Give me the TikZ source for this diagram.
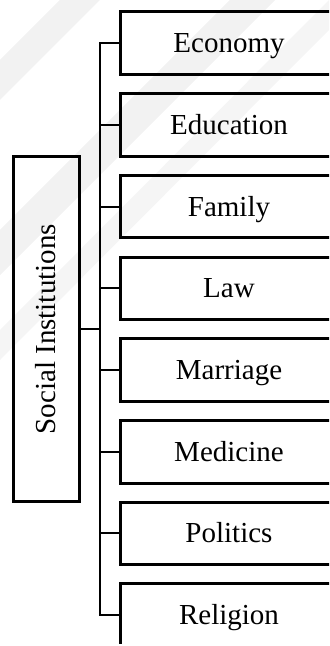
\documentclass[tikz,border=0pt]{standalone}
\usepackage{fontspec}
\setmainfont{Liberation Serif}
\usetikzlibrary{positioning}

\begin{document}
\begin{tikzpicture}[%
        x=0.5pt, y=-0.5pt,
        every node/.style={rectangle, draw, line width=1.5pt, outer sep=0pt, inner sep=0pt,
          text height=9.5pt, text depth=0pt, font=\fontsize{14.5}{17}\selectfont},
        inst/.style={minimum width=109pt, minimum height=31.25pt},
        node distance=9.6pt
      ]
      \useasboundingbox (0,0) rectangle (329,646);
      \clip (0,0) rectangle (329,643.5);
      % faint watermark
      \fill [black!5] (0,60) -- (60,0) -- (100,0) -- (0,100) -- cycle;
      \fill [black!5] (0,230) -- (230,0) -- (275,0) -- (0,275) -- cycle;
      \fill [black!4] (0,330) -- (329,0) -- (329,30) -- (0,360) -- cycle;
      \node [inst] (1) at (229,43.25) {Economy};
      \node [inst] (2) [below=of 1] {Education};
      \node [inst] (3) [below=of 2] {Family};
      \node [inst] (4) [below=of 3] {Law};
      \node [inst] (5) [below=of 4] {Marriage};
      \node [inst] (6) [below=of 5] {Medicine};
      \node [inst] (7) [below=of 6] {Politics};
      \node [inst] (8) [below=of 7] {Religion};
      \node [rotate=90, minimum width=172.5pt, minimum height=33pt] (0) at (46,329.2) {Social Institutions};
      \coordinate (t) at (100,329.2);
      \draw [line width=1pt] (0) -- (t);
      \foreach \i in {1,...,8}
        \draw [line width=1pt] (t) |- (\i.west);
    \end{tikzpicture}
\end{document}
